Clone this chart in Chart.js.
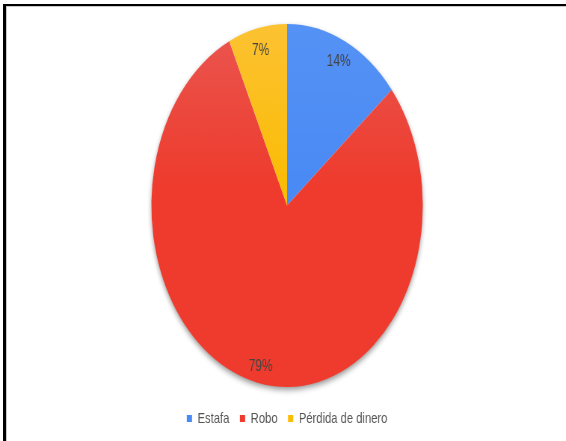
<!DOCTYPE html>
<html>
<head>
<meta charset="utf-8">
<script src="https://cdn.jsdelivr.net/npm/chart.js@4.4.1/dist/chart.umd.min.js"></script>
<style>
  html, body { margin: 0; padding: 0; background: #fff; }
  body { width: 566px; height: 441px; overflow: hidden; position: relative; }
  #wrap { position: absolute; left: 0; top: 0; width: 768px; height: 441px;
          transform: scaleX(0.7476); transform-origin: 0 0; }
  #frame { position: absolute; left: 3px; top: 4px; width: 620px; height: 500px;
           border-top: 2px solid #000; border-left: 3px solid #000;
           box-shadow: inset 1px 1px 0 #c8c8c8; pointer-events: none; }
</style>
</head>
<body>
<div id="wrap"><canvas id="c"></canvas></div>
<div id="frame"></div>
<script>
const categories = ['Estafa', 'Robo', 'Pérdida de dinero'];
const values = [14, 79, 7];
const percentLabels = ['14%', '79%', '7%'];
const baseColors = ['#4a8af4', '#ee3b2d', '#fbbc05'];
const lightColors = ['#5592f5', '#ea5650', '#fcc232'];

function sliceFill(ctx) {
  const chart = ctx.chart;
  const area = chart.chartArea;
  const i = ctx.dataIndex;
  if (!area) return baseColors[i];
  const g = chart.ctx.createLinearGradient(0, area.top, 0, area.bottom);
  g.addColorStop(0, lightColors[i]);
  g.addColorStop(0.45, baseColors[i]);
  g.addColorStop(1, baseColors[i]);
  return g;
}

const shadowPlugin = {
  id: 'pieShadow',
  beforeDatasetsDraw(chart) {
    const arc = chart.getDatasetMeta(0).data[0];
    if (!arc) return;
    const c = chart.ctx;
    c.save();
    c.shadowColor = 'rgba(0,0,0,0.45)';
    c.shadowBlur = 6;
    c.shadowOffsetY = 3;
    c.beginPath();
    c.arc(arc.x, arc.y, arc.outerRadius - 0.5, 0, Math.PI * 2);
    c.fillStyle = '#ffffff';
    c.fill();
    c.restore();
  }
};

const labelPlugin = {
  id: 'pctLabels',
  afterDatasetsDraw(chart) {
    const c = chart.ctx;
    const meta = chart.getDatasetMeta(0);
    c.save();
    c.font = '16px "Liberation Sans", Arial, sans-serif';
    c.fillStyle = '#444444';
    c.textAlign = 'center';
    c.textBaseline = 'middle';
    meta.data.forEach((arc, i) => {
      const mid = (arc.startAngle + arc.endAngle) / 2;
      const r = arc.outerRadius * 0.893;
      c.fillText(percentLabels[i], arc.x + Math.cos(mid) * r, arc.y + Math.sin(mid) * r + 3);
    });
    c.restore();
  }
};

new Chart(document.getElementById('c'), {
  type: 'pie',
  data: {
    labels: categories,
    datasets: [{
      data: values,
      backgroundColor: sliceFill,
      borderWidth: 0,
      hoverOffset: 0,
      offset: 0
    }]
  },
  options: {
    responsive: true,
    maintainAspectRatio: false,
    animation: false,
    layout: { padding: { top: 24, bottom: 5, left: 0, right: 0 } },
    plugins: {
      tooltip: { enabled: false },
      legend: {
        position: 'bottom',
        title: { display: true, text: '', font: { size: 1 }, padding: { top: 0, bottom: 8.8 } },
        labels: {
          boxWidth: 7,
          boxHeight: 7,
          padding: 14,
          color: '#555555',
          font: { size: 15, family: '"Liberation Sans", Arial, sans-serif' }
        }
      }
    }
  },
  plugins: [shadowPlugin, labelPlugin]
});
</script>
</body>
</html>
